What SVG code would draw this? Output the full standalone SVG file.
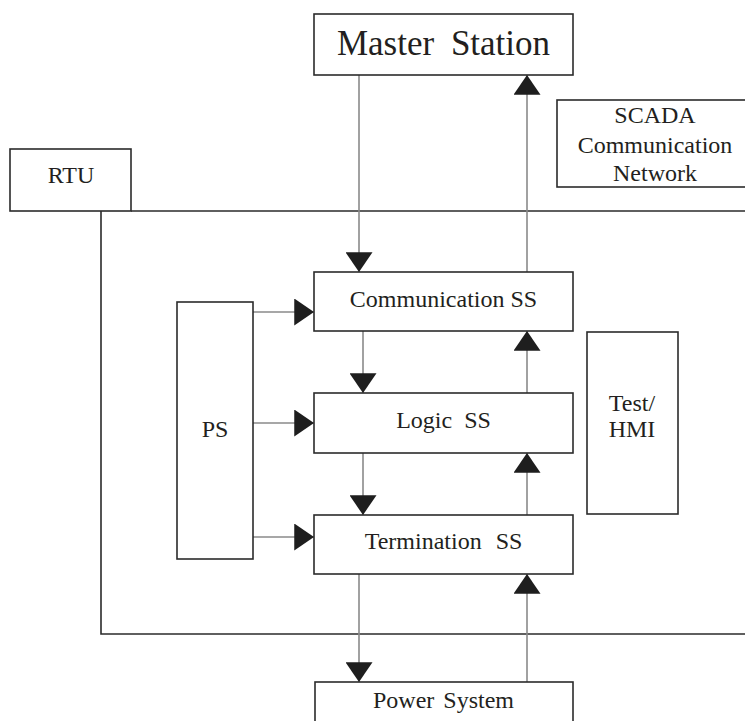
<svg xmlns="http://www.w3.org/2000/svg" width="745" height="721" viewBox="0 0 745 721">
<style>
.box{fill:#fff;stroke:#2b2b2b;stroke-width:1.6}
.wire{fill:none;stroke:#2b2b2b;stroke-width:1.6}
.conn{fill:none;stroke:#8a8a8a;stroke-width:1.6;marker-end:url(#ah)}
text{font-family:"Liberation Serif","Times New Roman",serif;font-size:24px;fill:#231f20;text-anchor:middle}
</style>
<defs>
<marker id="ah" markerUnits="userSpaceOnUse" markerWidth="20" markerHeight="27" refX="19" refY="13" orient="auto" viewBox="0 0 19 26">
<path d="M0,0 L19,13 L0,26 z" fill="#1e1e1e"/>
</marker>
</defs>
<rect width="745" height="721" fill="#fff"/>
<g id="connectors">
<path class="wire" d="M131,211 H746 M101,211 V634 H746"/>
<path class="conn" d="M359,75 V272"/>
<path class="conn" d="M527,272 V75"/>
<path class="conn" d="M363,331 V393"/>
<path class="conn" d="M527,393 V331"/>
<path class="conn" d="M363,453 V515"/>
<path class="conn" d="M527,515 V453"/>
<path class="conn" d="M359,574 V682"/>
<path class="conn" d="M527,682 V574"/>
<path class="conn" d="M253,312 H314"/>
<path class="conn" d="M253,423 H314"/>
<path class="conn" d="M253,537 H314"/>
</g>
<g id="master">
<rect class="box" x="314" y="14" width="259" height="61"/>
<text x="443.5" y="55" style="font-size:35px;word-spacing:8px">Master Station</text>
</g>
<g id="scada">
<rect class="box" x="557" y="100" width="200" height="87"/>
<text x="655" y="123">SCADA</text>
<text x="655" y="153">Communication</text>
<text x="655" y="181">Network</text>
</g>
<g id="rtu">
<rect class="box" x="10" y="149" width="121" height="62"/>
<text x="71" y="183">RTU</text>
</g>
<g id="comm">
<rect class="box" x="314" y="272" width="259" height="59"/>
<text x="443.5" y="307">Communication SS</text>
</g>
<g id="logic">
<rect class="box" x="314" y="393" width="259" height="60"/>
<text x="443.5" y="428" style="word-spacing:6px">Logic SS</text>
</g>
<g id="termination">
<rect class="box" x="314" y="515" width="259" height="59"/>
<text x="443.5" y="549" style="word-spacing:8px">Termination SS</text>
</g>
<g id="ps">
<rect class="box" x="177" y="302" width="76" height="257"/>
<text x="215" y="437">PS</text>
</g>
<g id="test">
<rect class="box" x="587" y="332" width="91" height="182"/>
<text x="632" y="411">Test/</text>
<text x="632" y="437">HMI</text>
</g>
<g id="power">
<rect class="box" x="315" y="682" width="258" height="60"/>
<text x="443.5" y="708" style="word-spacing:3px">Power System</text>
</g>
</svg>
